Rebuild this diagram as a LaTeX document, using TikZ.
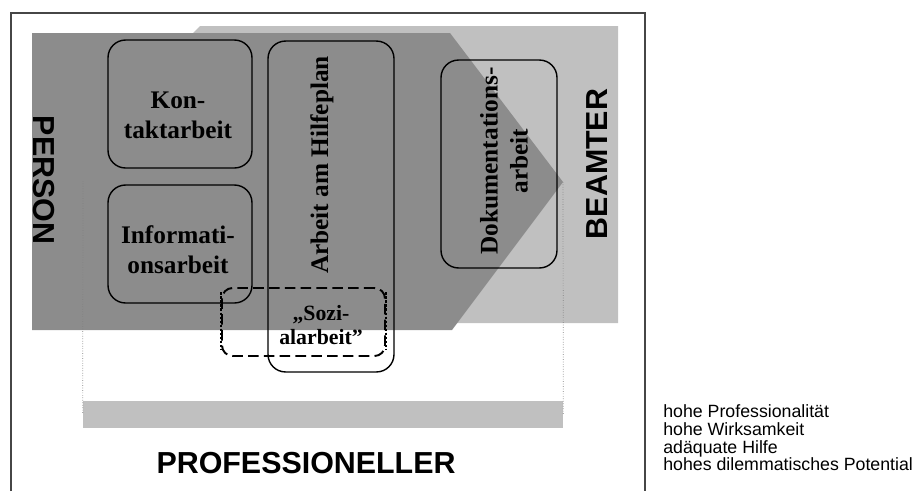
\documentclass[tikz,border=0pt]{standalone}
\usepackage{fontspec}
\setmainfont{Liberation Serif}
\setsansfont{Liberation Sans}
\definecolor{darkarea}{RGB}{140,140,140}
\definecolor{lightarea}{RGB}{192,192,192}
\definecolor{framegray}{RGB}{70,70,70}

\begin{document}
\begin{tikzpicture}[x=0.02cm, y=-0.02cm,
    task/.style={draw, line width=0.8pt, rounded corners=10pt, inner sep=0pt},
    tasktext/.style={inner sep=0pt, align=center, font=\fontsize{14.4}{17}\selectfont\bfseries},
    role/.style={inner sep=0pt, font=\sffamily\fontsize{17.3}{20}\selectfont\bfseries},
    sozi/.style={draw, line width=1.1pt, rounded corners=6pt, dash pattern=on 6pt off 3pt},
    sozside/.style={line width=1.6pt, dash pattern=on 1.5pt off 0.8pt},
    guide/.style={gray, line width=0.4pt, densely dotted}]
  \useasboundingbox (0,0) rectangle (916,491);
  \draw[framegray, line width=0.9pt] (11,491) -- (11,13) -- (645,13) -- (645,491);

  % areas
  \fill[lightarea] (193,33) -- (200,26) -- (618,26) -- (618,323) -- (193,323) -- cycle;
  \fill[darkarea] (32,33) -- (450,33) -- (563,182) -- (452,330) -- (32,330) -- cycle;
  \node[fill=lightarea, inner sep=0pt, minimum width=9.6cm, minimum height=0.54cm] (bar) at (323,414.5) {};

  \coordinate (L) at (83,181);
  \coordinate (R) at (563,182);
  \draw[guide] (L) -- (bar.west);
  \draw[guide] (R) -- (bar.east);

  \node[task, minimum width=2.88cm, minimum height=2.56cm] (K) at (180,104) {};
  \node[tasktext] (Kt) at (178,115) {Kon-\\taktarbeit};
  \node[task, minimum width=2.88cm, minimum height=2.36cm] (I) at (180,244) {};
  \node[tasktext] (It) at (178,250) {Informati-\\onsarbeit};
  \node[task, minimum width=2.52cm, minimum height=6.62cm] (H) at (331,206.5) {};
  \node[tasktext, rotate=90] (Ht) at (322,165) {Arbeit am Hilfeplan};
  \node[task, minimum width=2.32cm, minimum height=4.16cm] (D) at (499,164) {};
  \node[tasktext, rotate=90] (Dt) at (504,161) {Dokumentations-\\arbeit};

  \node[sozi, minimum width=3.26cm, minimum height=1.36cm] (S) at (303.5,322) {};
  \draw[sozside] ([yshift=-3pt]S.north west) -- ([yshift=4pt]S.south west);
  \draw[sozside] ([yshift=-3pt]S.north east) -- ([yshift=4pt]S.south east);
  \node[align=center, inner sep=0pt, font=\fontsize{12.4}{14}\selectfont\bfseries] (St) at (321,325) {„Sozi-\\alarbeit”};

  \node[role, rotate=-90] (P) at (44,180) {PERSON};
  \node[role, rotate=90] (B) at (597,164) {BEAMTER};
  \node[role] (PR) at (306,463) {PROFESSIONELLER};

  \node[anchor=north west, align=left, inner sep=0pt, font=\sffamily\fontsize{10.1}{10.2}\selectfont] (Q) at (663,404)
    {hohe Professionalität\\hohe Wirksamkeit\\adäquate Hilfe\\hohes dilemmatisches Potential};
\end{tikzpicture}
\end{document}
